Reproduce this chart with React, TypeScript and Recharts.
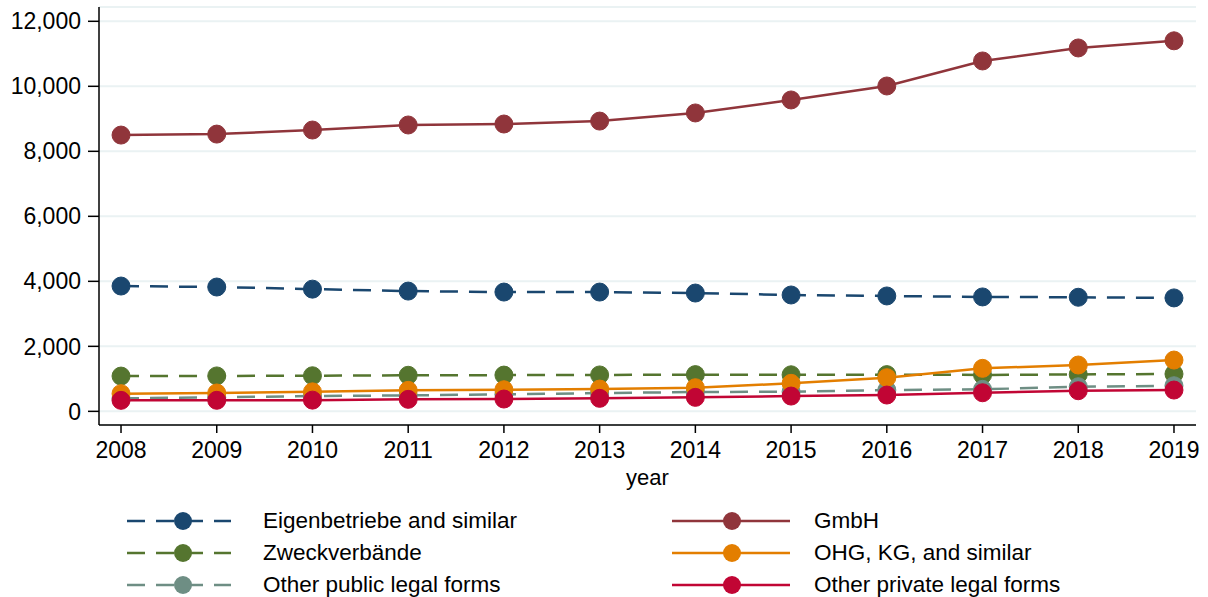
import React from "react";
import { CartesianGrid, Line, LineChart, XAxis, YAxis } from "recharts";

const years = [2008, 2009, 2010, 2011, 2012, 2013, 2014, 2015, 2016, 2017, 2018, 2019];
const eigenbetriebe = [3855, 3825, 3760, 3700, 3670, 3670, 3640, 3580, 3550, 3520, 3510, 3490];
const zweckverbaende = [1085, 1090, 1095, 1110, 1115, 1120, 1130, 1125, 1130, 1120, 1135, 1150];
const otherPublic = [400, 430, 470, 492, 523, 563, 594, 604, 655, 677, 757, 788];
const gmbh = [8500, 8530, 8655, 8810, 8840, 8930, 9180, 9580, 10010, 10780, 11180, 11400];
const ohg = [545, 565, 600, 646, 665, 686, 727, 862, 1035, 1323, 1425, 1578];
const otherPrivate = [338, 340, 345, 369, 379, 400, 430, 470, 502, 572, 634, 655];
const yTicks = [0, 2000, 4000, 6000, 8000, 10000, 12000];

const data = years.map((year, i) => ({
  year,
  eigen: eigenbetriebe[i],
  zweck: zweckverbaende[i],
  pub: otherPublic[i],
  gmbh: gmbh[i],
  ohg: ohg[i],
  priv: otherPrivate[i],
}));

const series = [
  { key: "eigen", name: "Eigenbetriebe and similar", color: "#1a476f", dashed: true },
  { key: "zweck", name: "Zweckverbände", color: "#55752f", dashed: true },
  { key: "pub", name: "Other public legal forms", color: "#6e8e84", dashed: true },
  { key: "gmbh", name: "GmbH", color: "#90353b", dashed: false },
  { key: "ohg", name: "OHG, KG, and similar", color: "#e37e00", dashed: false },
  { key: "priv", name: "Other private legal forms", color: "#c10534", dashed: false },
];

const font = "'Liberation Sans', Arial, sans-serif";
const DASH = "18 11";

const LegendItem = ({ s, x, y }: any) => {
  const w = s.dashed ? 104 : 118;
  return (
    <div style={{ position: "absolute", left: x, top: y - 16, height: 32, display: "flex", alignItems: "center" }}>
      <svg width={w} height={24} style={{ display: "block" }}>
        <line
          x1={0}
          y1={12}
          x2={w}
          y2={12}
          stroke={s.color}
          strokeWidth={2.5}
          strokeDasharray={s.dashed ? DASH : undefined}
        />
        <circle cx={s.dashed ? 56 : 60} cy={12} r={9} fill={s.color} />
      </svg>
      <span
        style={{
          marginLeft: s.dashed ? 32 : 24,
          fontFamily: font,
          fontSize: 22.5,
          color: "#000",
          whiteSpace: "nowrap",
        }}
      >
        {s.name}
      </span>
    </div>
  );
};

export default function App() {
  return (
    <div style={{ position: "relative", width: 1208, height: 597, background: "#fff" }}>
      <style>{"body{margin:0}"}</style>
      <LineChart
        width={1208}
        height={505}
        data={data}
        margin={{ top: 7, right: 12, left: 0, bottom: 0 }}
      >
        <CartesianGrid vertical={false} stroke="#eaf2f3" strokeWidth={2} />
        <XAxis
          dataKey="year"
          type="number"
          domain={[2007.77, 2019.23]}
          ticks={years}
          allowDataOverflow
          height={80}
          stroke="#000"
          strokeWidth={1.5}
          tickSize={8}
          tickMargin={9}
          tick={{ fill: "#000", fontSize: 23, fontFamily: font }}
          label={{ value: "year", position: "insideTop", dy: 39, fill: "#000", fontSize: 22, fontFamily: font }}
        />
        <YAxis
          type="number"
          domain={[-420, 12440]}
          ticks={yTicks}
          allowDataOverflow
          width={99}
          stroke="#000"
          strokeWidth={1.5}
          tickSize={11}
          tickMargin={7}
          tickFormatter={(v: number) => v.toLocaleString("en-US")}
          tick={{ fill: "#000", fontSize: 23, fontFamily: font }}
        />
        {series.map((s) => (
          <Line
            key={s.key}
            dataKey={s.key}
            name={s.name}
            stroke={s.color}
            strokeWidth={2.5}
            strokeDasharray={s.dashed ? DASH : undefined}
            dot={{ r: 9, fill: s.color, stroke: s.color, strokeWidth: 1, strokeDasharray: "" }}
            activeDot={false}
            isAnimationActive={false}
          />
        ))}
      </LineChart>
      {series.slice(0, 3).map((s, i) => (
        <LegendItem key={s.key} s={s} x={127} y={521 + i * 32} />
      ))}
      {series.slice(3).map((s, i) => (
        <LegendItem key={s.key} s={s} x={672} y={521 + i * 32} />
      ))}
    </div>
  );
}
